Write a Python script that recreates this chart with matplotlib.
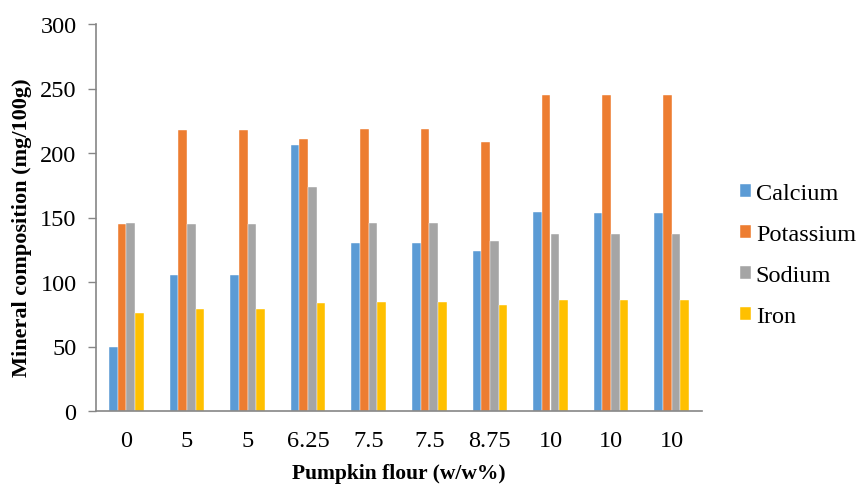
import matplotlib
matplotlib.use("Agg")
import matplotlib.pyplot as plt
import numpy as np

plt.rcParams['font.family'] = ['Liberation Serif', 'DejaVu Serif']

categories = ["0", "5", "5", "6.25", "7.5", "7.5", "8.75", "10", "10", "10"]
calcium = [49.5, 105.2, 105.2, 206.2, 130.4, 130.4, 124.0, 154.1, 153.4, 153.4]
potassium = [144.8, 217.5, 217.5, 210.6, 218.8, 218.8, 208.8, 245.1, 245.1, 245.1]
sodium = [145.6, 144.6, 144.6, 174.0, 145.6, 145.6, 132.0, 137.1, 137.1, 137.1]
iron = [76.0, 79.1, 79.1, 83.5, 84.5, 84.5, 82.2, 86.1, 86.1, 86.1]

series = [("Calcium", calcium, "#5B9BD5"),
          ("Potassium", potassium, "#ED7D31"),
          ("Sodium", sodium, "#A5A5A5"),
          ("Iron", iron, "#FFC000")]

fig = plt.figure(figsize=(8.56, 4.85), dpi=100)
ax = fig.add_axes([96/856, 73/485, 606/856, 387/485])

x = np.arange(len(categories))
w = 0.143
for i, (name, vals, col) in enumerate(series):
    ax.bar(x + (i - 1.5) * w, vals, width=w, color=col, label=name,
           edgecolor="white", linewidth=0.3)

ax.set_xlim(-0.5, len(categories) - 0.5)
ax.set_ylim(0, 300)
ax.set_yticks(range(0, 301, 50))
ax.set_xticks(x)
ax.set_xticklabels(categories)
ax.tick_params(axis='x', length=0, pad=14, labelsize=17.5)
ax.tick_params(axis='y', length=6, width=1, color="#868686", pad=8, labelsize=17.5, direction='out')
for s in ['top', 'right']:
    ax.spines[s].set_visible(False)
for s in ['left', 'bottom']:
    ax.spines[s].set_color("#868686")
    ax.spines[s].set_linewidth(1.2)

ax.set_xlabel("Pumpkin flour (w/w%)", fontsize=15.5, fontweight='bold', labelpad=8)
ax.set_ylabel("Mineral composition (mg/100g)", fontsize=16, fontweight='bold')
ax.yaxis.set_label_coords(-0.105, 0.477)

fig.legend(loc='center left', bbox_to_anchor=(740/856, (485 - 256)/485), frameon=False,
           fontsize=17.5, handlelength=0.45, handleheight=0.45, handletextpad=0.2,
           labelspacing=0.82, borderpad=0, borderaxespad=0)

fig.savefig("out.png", dpi=100)
